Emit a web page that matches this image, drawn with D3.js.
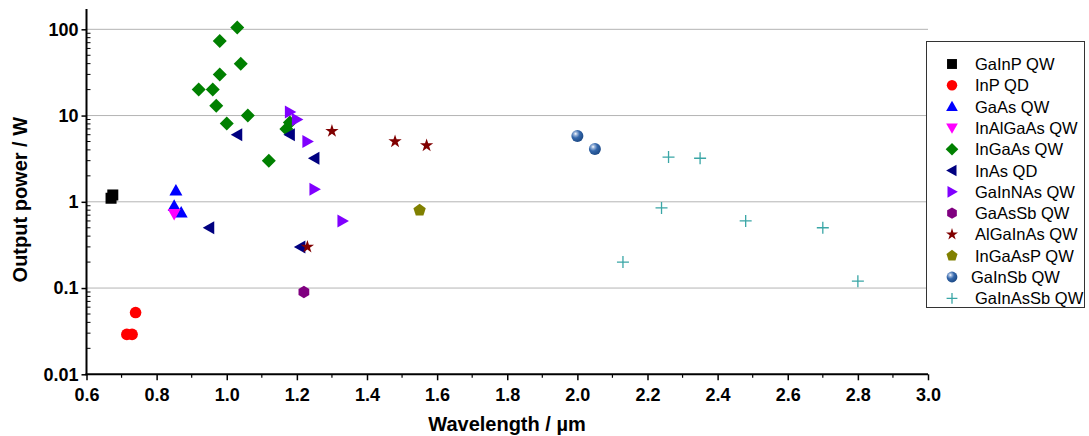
<!DOCTYPE html>
<html>
<head>
<meta charset="utf-8">
<script src="https://cdn.jsdelivr.net/npm/d3@7"></script>
<style>
  body { margin: 0; background: #fff; }
  svg text { font-family: "Liberation Sans", Arial, sans-serif; }
</style>
</head>
<body>
<div id="wrapper"></div>
<script>
// series values: [wavelength µm, output power W]
const seriesNames = ["GaInP QW", "InP QD", "GaAs QW", "InAlGaAs QW", "InGaAs QW", "InAs QD",
  "GaInNAs QW", "GaAsSb QW", "AlGaInAs QW", "InGaAsP QW", "GaInSb QW", "GaInAsSb QW"]
const gainpQW = [[0.67, 1.1], [0.675, 1.2]]
const inpQD = [[0.715, 0.029], [0.73, 0.029], [0.74, 0.052]]
const gaasQW = [[0.855, 1.35], [0.85, 0.9], [0.87, 0.75]]
const inalgaasQW = [[0.85, 0.72]]
const ingaasQW = [[0.92, 20], [0.96, 20], [0.98, 73], [1.03, 105], [1.04, 40], [0.98, 30],
  [0.97, 13], [1.0, 8.1], [1.06, 10], [1.12, 3], [1.17, 7], [1.18, 8.3]]
const inasQD = [[1.03, 6], [1.18, 6], [1.25, 3.2], [0.95, 0.5], [1.21, 0.3]]
const gainnasQW = [[1.18, 11], [1.2, 9], [1.23, 5], [1.25, 1.4], [1.33, 0.6]]
const gaassbQW = [[1.22, 0.09]]
const algainasQW = [[1.3, 6.6], [1.48, 5], [1.57, 4.5], [1.23, 0.3]]
const ingaaspQW = [[1.55, 0.8]]
const gainsbQW = [[2.0, 5.8], [2.05, 4.1]]
const gainassbQW = [[2.26, 3.3], [2.35, 3.2], [2.24, 0.85], [2.13, 0.2], [2.48, 0.6], [2.7, 0.5], [2.8, 0.12]]

const seriesValues = [gainpQW, inpQD, gaasQW, inalgaasQW, ingaasQW, inasQD,
  gainnasQW, gaassbQW, algainasQW, ingaaspQW, gainsbQW, gainassbQW]
const seriesShapes = ["square", "circle", "up", "down", "diamond", "left",
  "right", "hexagon", "star", "pentagon", "ball", "cross"]
const seriesColors = ["#000000", "#ff0000", "#0000ff", "#ff00ff", "#008000", "#000080",
  "#8000ff", "#800080", "#800000", "#808000", "#2b5c9e", "#3aa6a6"]

const xTicks = [0.6, 0.8, 1.0, 1.2, 1.4, 1.6, 1.8, 2.0, 2.2, 2.4, 2.6, 2.8, 3.0]
const yTicks = [0.01, 0.1, 1, 10, 100]
const yTickLabels = ["0.01", "0.1", "1", "10", "100"]

const width = 1089
const height = 436
const dims = { left: 86.5, right: 928, top: 9, bottom: 374.3 }

const svg = d3.select("#wrapper").append("svg")
  .attr("width", width)
  .attr("height", height)

const defs = svg.append("defs")
const grad = defs.append("radialGradient").attr("id", "ball")
  .attr("cx", "35%").attr("cy", "32%").attr("r", "70%")
grad.append("stop").attr("offset", "0%").attr("stop-color", "#ffffff")
grad.append("stop").attr("offset", "18%").attr("stop-color", "#9fb8dc")
grad.append("stop").attr("offset", "50%").attr("stop-color", "#3467ab")
grad.append("stop").attr("offset", "100%").attr("stop-color", "#1d4a86")

const xScale = d3.scaleLinear().domain([0.6, 3.0]).range([dims.left, dims.right])
const yScale = d3.scaleLog().domain([0.01, 172]).range([dims.bottom, dims.top])

// grid lines
svg.append("g").selectAll("line")
  .data(yTicks.slice(1))
  .join("line")
    .attr("x1", dims.left).attr("x2", dims.right)
    .attr("y1", d => yScale(d)).attr("y2", d => yScale(d))
    .attr("stroke", "#b4b4b4").attr("stroke-width", 1)

// y axis
const yAxis = svg.append("g")
  .attr("transform", `translate(${dims.left},0)`)
  .call(d3.axisLeft(yScale).tickValues(yTicks)
    .tickFormat((d, i) => yTickLabels[i]).tickSize(5).tickPadding(3))
yAxis.select(".domain").remove()
yAxis.selectAll(".tick line").attr("stroke-width", 1.5)
yAxis.selectAll("text").attr("font-size", 18).attr("font-weight", "bold").attr("fill", "#000")

// minor log ticks (inside)
const yMinor = []
yTicks.slice(0, -1).forEach(d => { for (let k = 2; k <= 9; k++) yMinor.push(d * k) })
yMinor.push(200)
svg.append("g").selectAll("line")
  .data(yMinor.filter(d => yScale(d) >= dims.top))
  .join("line")
    .attr("x1", dims.left).attr("x2", dims.left + 4)
    .attr("y1", d => yScale(d)).attr("y2", d => yScale(d))
    .attr("stroke", "#000").attr("stroke-width", 1)

// x axis
const xAxis = svg.append("g")
  .attr("transform", `translate(0,${dims.bottom})`)
  .call(d3.axisBottom(xScale).tickValues(xTicks)
    .tickFormat(d3.format(".1f")).tickSize(6).tickPadding(8))
xAxis.select(".domain").remove()
xAxis.selectAll(".tick line").attr("stroke-width", 1.5)
xAxis.selectAll("text").attr("font-size", 18).attr("font-weight", "bold").attr("fill", "#000")

svg.append("g").selectAll("line")
  .data(d3.range(0.7, 3.0, 0.2))
  .join("line")
    .attr("x1", d => xScale(d)).attr("x2", d => xScale(d))
    .attr("y1", dims.bottom).attr("y2", dims.bottom + 3.5)
    .attr("stroke", "#000").attr("stroke-width", 1.2)

// axis lines
svg.append("line")
  .attr("x1", dims.left).attr("x2", dims.left)
  .attr("y1", dims.top).attr("y2", dims.bottom + 1)
  .attr("stroke", "#000").attr("stroke-width", 2)
svg.append("line")
  .attr("x1", dims.left - 1).attr("x2", dims.right)
  .attr("y1", dims.bottom).attr("y2", dims.bottom)
  .attr("stroke", "#000").attr("stroke-width", 2)

// axis titles
svg.append("text")
  .attr("transform", `translate(27,${(dims.top + dims.bottom) / 2 + 8}) rotate(-90)`)
  .attr("text-anchor", "middle")
  .attr("font-size", 20).attr("font-weight", "bold")
  .text("Output power / W")
svg.append("text")
  .attr("x", 507).attr("y", 431)
  .attr("text-anchor", "middle")
  .attr("font-size", 20).attr("font-weight", "bold")
  .text("Wavelength / µm")

// marker drawing
function polygon(n, r, rot) {
  const pts = d3.range(n).map(i => {
    const a = rot + i * 2 * Math.PI / n
    return [r * Math.cos(a), r * Math.sin(a)]
  })
  return "M" + pts.map(p => p.join(",")).join("L") + "Z"
}
function drawMarker(g, shape, color, s) {
  if (shape === "square") {
    g.append("rect").attr("x", -5.5 * s).attr("y", -5.5 * s)
      .attr("width", 11 * s).attr("height", 11 * s).attr("fill", color)
  } else if (shape === "circle") {
    g.append("circle").attr("r", 5.8 * s).attr("fill", color)
  } else if (shape === "up") {
    g.append("path").attr("d", `M0,${-6.5 * s}L${6.5 * s},${5 * s}L${-6.5 * s},${5 * s}Z`).attr("fill", color)
  } else if (shape === "down") {
    g.append("path").attr("d", `M0,${6.5 * s}L${6.5 * s},${-5 * s}L${-6.5 * s},${-5 * s}Z`).attr("fill", color)
  } else if (shape === "left") {
    g.append("path").attr("d", `M${-6.5 * s},0L${5 * s},${-6.5 * s}L${5 * s},${6.5 * s}Z`).attr("fill", color)
  } else if (shape === "right") {
    g.append("path").attr("d", `M${6.5 * s},0L${-5 * s},${-6.5 * s}L${-5 * s},${6.5 * s}Z`).attr("fill", color)
  } else if (shape === "diamond") {
    g.append("path").attr("d", polygon(4, 7 * s, -Math.PI / 2)).attr("fill", color)
  } else if (shape === "hexagon") {
    g.append("path").attr("d", polygon(6, 6.2 * s, 0 - Math.PI / 2)).attr("fill", color)
  } else if (shape === "pentagon") {
    g.append("path").attr("d", polygon(5, 6.5 * s, -Math.PI / 2)).attr("fill", color)
  } else if (shape === "star") {
    g.append("path").attr("d", d3.symbol(d3.symbolStar, 55 * s * s)()).attr("fill", color)
  } else if (shape === "ball") {
    g.append("circle").attr("r", 6 * s).attr("fill", "url(#ball)")
  } else if (shape === "cross") {
    g.append("path").attr("d", `M${-6 * s},0H${6 * s}M0,${-6 * s}V${6 * s}`)
      .attr("stroke", color).attr("stroke-width", 1.3).attr("fill", "none")
  }
}

// points
const table = seriesValues.flatMap((vals, i) => vals.map(v => ({ series: i, x: v[0], y: v[1] })))
const plot = svg.append("g")
table.forEach(d => {
  const g = plot.append("g")
    .attr("transform", `translate(${xScale(d.x)},${yScale(d.y)})`)
  drawMarker(g, seriesShapes[d.series], seriesColors[d.series], 1)
})

// legend
const legend = svg.append("g")
legend.append("rect")
  .attr("x", 926.5).attr("y", 41.5).attr("width", 158).attr("height", 266)
  .attr("fill", "#fff").attr("stroke", "#333").attr("stroke-width", 1)
seriesNames.forEach((name, i) => {
  const y = 64 + i * 21.3
  const g = legend.append("g").attr("transform", `translate(952,${y})`)
  drawMarker(g, seriesShapes[i], seriesColors[i], 0.9)
  legend.append("text")
    .attr("x", name === "GaInSb QW" ? 971 : 975).attr("y", y + 6)
    .attr("font-size", 16.5)
    .text(name)
})
</script>
</body>
</html>
